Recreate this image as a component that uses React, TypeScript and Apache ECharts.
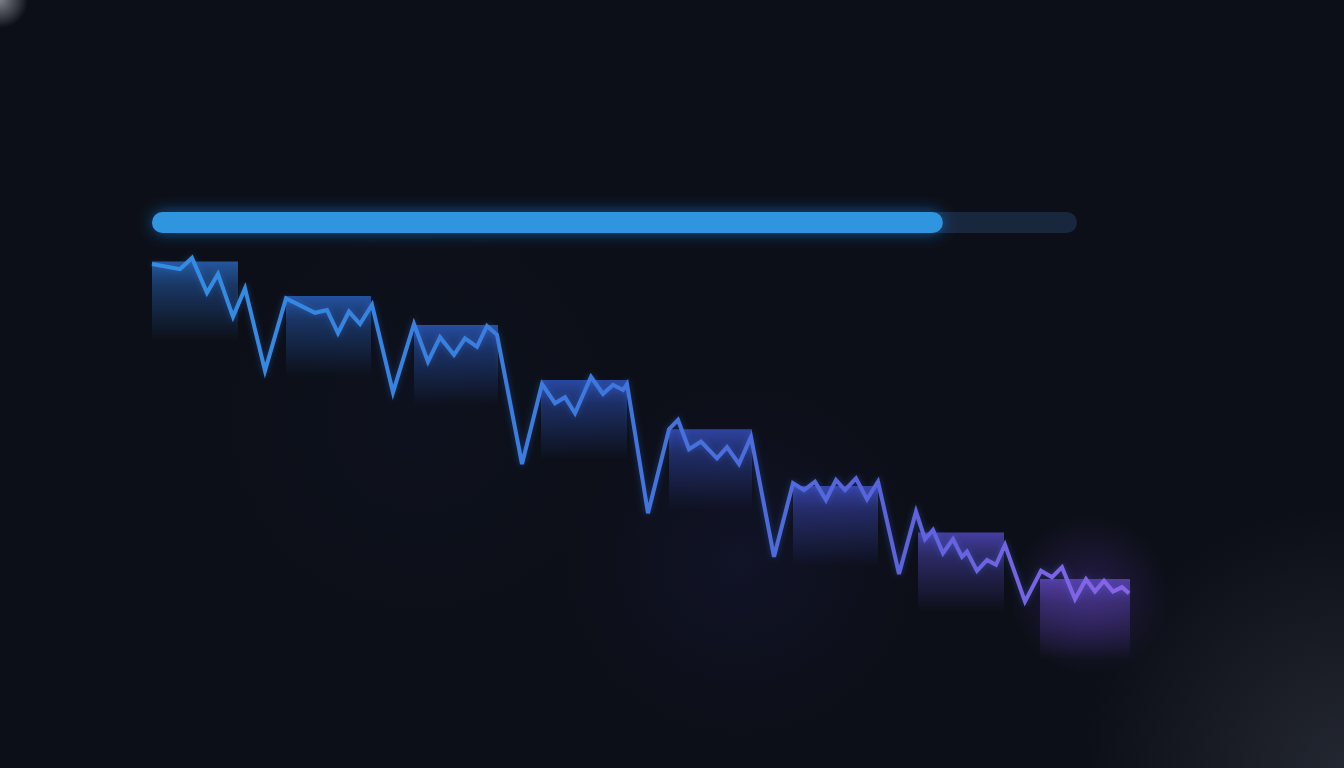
import { useRef, useEffect } from 'react'
import * as echarts from 'echarts'

// line points (x: time step, y: level)
const lineX = [
  0.2, 3.0, 4.2, 5.7, 6.8, 8.3, 9.5, 11.5,
  13.6, 16.5, 17.7, 18.8, 19.9, 21.0, 22.2, 24.3,
  26.4, 27.8, 29.0, 30.4, 31.5, 32.7, 33.7, 34.7, 37.2,
  39.2, 40.5, 41.5, 42.5, 44.1, 45.3, 46.3, 47.3, 47.7, 49.8,
  51.9, 52.8, 53.9, 55.1, 56.7, 57.7, 58.9, 60.1, 62.4,
  64.3, 65.4, 66.5, 67.6, 68.6, 69.5, 70.6, 71.7, 72.8, 74.9,
  76.6, 77.5, 78.3, 79.3, 80.3, 81.2, 81.7, 82.7, 83.7, 84.6, 85.5, 87.5,
  89.1, 90.2, 91.2, 92.5, 93.6, 94.5, 95.4, 96.3, 97.2, 97.9,
]
const lineY = [
  96.5, 95.2, 98.0, 89.3, 94.0, 83.3, 90.4, 69.8,
  87.9, 84.3, 85.0, 79.2, 84.6, 81.5, 86.3, 64.4,
  81.5, 72.1, 78.2, 73.8, 77.9, 75.8, 81.0, 78.8, 46.5,
  66.5, 61.7, 63.2, 59.2, 68.3, 64.0, 66.3, 65.0, 66.5, 34.2,
  55.2, 57.5, 50.2, 52.1, 47.9, 50.7, 46.5, 53.3, 23.3,
  41.7, 40.0, 42.1, 37.5, 42.5, 40.0, 42.9, 37.7, 42.1, 19.0,
  34.6, 27.7, 30.0, 24.2, 27.7, 23.3, 24.6, 19.8, 22.5, 21.3, 26.3, 12.1,
  19.8, 18.2, 20.7, 12.7, 17.7, 14.6, 17.3, 14.6, 15.7, 14.2,
]

// plateau blocks behind the line
const stepStart = [0.2, 13.6, 26.4, 39.1, 51.9, 64.3, 76.8, 89.0]
const stepEnd = [8.8, 22.1, 34.8, 47.7, 60.2, 72.8, 85.4, 98.0]
const stepTop = [97.1, 88.5, 81.25, 67.5, 55.2, 41.0, 29.4, 17.75]
const stepColors = ['#275ead', '#2759ae', '#2954b0', '#2c4eb0', '#3249b0', '#3b46b0', '#4b43b0', '#5a42b0']

// progress bar
const progress = [85.5]
const progressMax = 100

const fadeDepth = 20

function rgba(hex: string, a: number) {
  const n = parseInt(hex.slice(1), 16)
  return `rgba(${(n >> 16) & 255},${(n >> 8) & 255},${n & 255},${a})`
}

export default function App() {
  const cDom = useRef<HTMLDivElement>(null)

  useEffect(() => {
    if (!cDom.current) return
    const chart = echarts.init(cDom.current, null, { renderer: 'svg' })
    const steps = stepStart.map((s, i) => [s, stepEnd[i], stepTop[i]])
    const line = lineX.map((x, i) => [x, lineY[i]])

    const glow = (cx: number, cy: number, r: number, color: string, a: number) => ({
      type: 'circle',
      silent: true,
      shape: { cx, cy, r },
      style: {
        fill: new echarts.graphic.RadialGradient(0.5, 0.5, 0.5, [
          { offset: 0, color: rgba(color, a) },
          { offset: 1, color: rgba(color, 0) },
        ]),
      },
      z: -10,
    })

    chart.setOption({
      animation: false,
      backgroundColor: '#0c0f17',
      graphic: [
        glow(0, 0, 28, '#c8ccd4', 0.6),
        glow(1344, 768, 260, '#3a3f4a', 0.5),
        glow(1090, 595, 80, '#6a3cc8', 0.28),
        glow(740, 560, 180, '#2a2a80', 0.15),
        glow(420, 420, 200, '#1a2a60', 0.1),
      ],
      grid: [
        { left: 150, top: 250, width: 980, height: 400 },
        { left: 152, top: 212, width: 925, height: 21 },
      ],
      xAxis: [
        { type: 'value', min: 0, max: 98, show: false },
        { type: 'value', min: 0, max: progressMax, show: false, gridIndex: 1 },
      ],
      yAxis: [
        { type: 'value', min: 0, max: 100, show: false },
        { type: 'category', data: ['progress'], show: false, gridIndex: 1 },
      ],
      series: [
        {
          type: 'custom',
          z: 1,
          data: steps,
          encode: { x: [0, 1], y: 2 },
          renderItem: (params: any, api: any) => {
            const p0 = api.coord([api.value(0), api.value(2)])
            const p1 = api.coord([api.value(1), api.value(2) - fadeDepth])
            const c = stepColors[params.dataIndex]
            return {
              type: 'rect',
              shape: { x: p0[0], y: p0[1], width: p1[0] - p0[0], height: p1[1] - p0[1] },
              style: {
                fill: new echarts.graphic.LinearGradient(0, 0, 0, 1, [
                  { offset: 0, color: rgba(c, 0.9) },
                  { offset: 0.3, color: rgba(c, 0.5) },
                  { offset: 1, color: rgba(c, 0) },
                ]),
              },
            }
          },
        },
        {
          type: 'line',
          z: 5,
          data: line,
          symbol: 'none',
          lineStyle: {
            width: 4,
            join: 'miter',
            color: new echarts.graphic.LinearGradient(0, 0, 1, 0, [
              { offset: 0, color: '#318fe2' },
              { offset: 0.45, color: '#3d78de' },
              { offset: 0.75, color: '#5a62dc' },
              { offset: 1, color: '#8c64e8' },
            ]),
            shadowBlur: 6,
            shadowColor: 'rgba(60,120,240,0.35)',
          },
        },
        {
          type: 'bar',
          xAxisIndex: 1,
          yAxisIndex: 1,
          data: progress,
          barWidth: 21,
          showBackground: true,
          backgroundStyle: { color: '#1c2b44', borderRadius: 10.5, opacity: 0.85 },
          itemStyle: {
            color: '#2f95de',
            borderRadius: 10.5,
            shadowBlur: 16,
            shadowColor: 'rgba(30,140,255,0.55)',
          },
        },
      ],
    })
    return () => chart.dispose()
  }, [])

  return (
    <div
      ref={cDom}
      style={{ position: 'fixed', left: 0, top: 0, width: 1344, height: 768 }}
    ></div>
  )
}
